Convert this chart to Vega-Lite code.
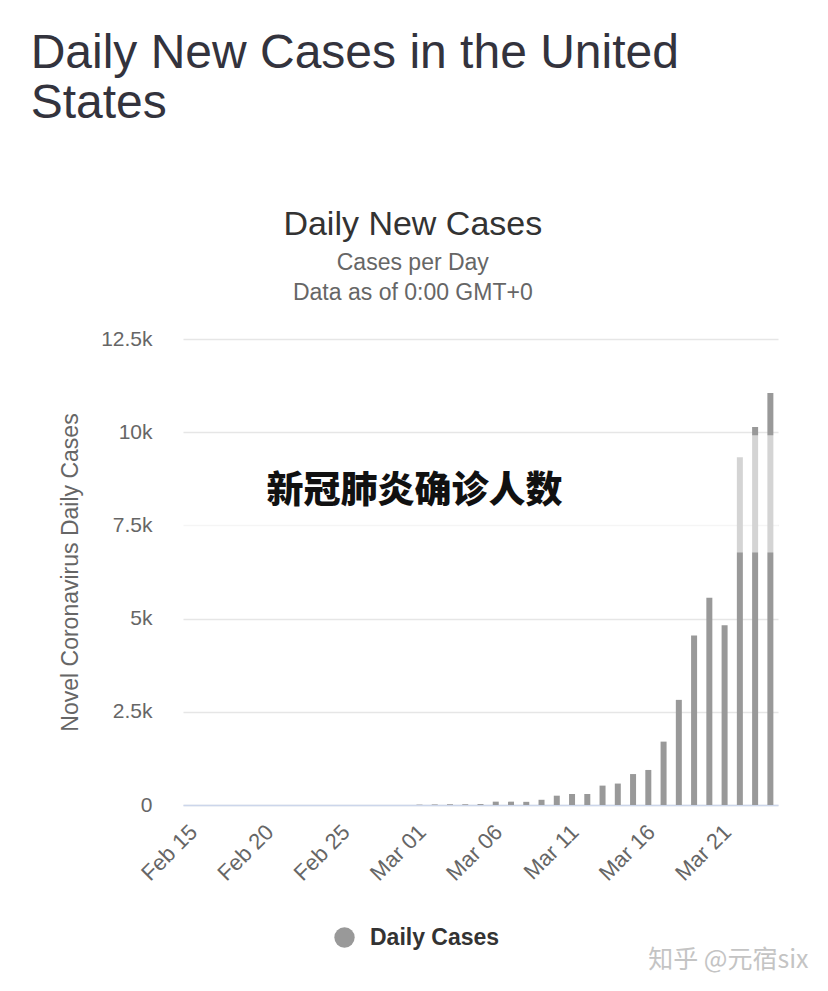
{
  "$schema": "https://vega.github.io/schema/vega-lite/v6.json",
  "background": "white",
  "padding": {"left": 30, "top": 30, "right": 10, "bottom": 10},
  "title": {"text": ["Daily New Cases in the United", "States"], "anchor": "start", "dx": -29, "fontSize": 48, "fontWeight": "normal", "color": "#33333d", "lineHeight": 50, "offset": 80, "font": "Liberation Sans"},
  "config": {"view": {"stroke": null}, "font": "Liberation Sans"},
  "datasets": {
    "cases": [
      {"date": "Feb 15", "cases": 0}, {"date": "Feb 16", "cases": 0}, {"date": "Feb 17", "cases": 0},
      {"date": "Feb 18", "cases": 0}, {"date": "Feb 19", "cases": 0}, {"date": "Feb 20", "cases": 0},
      {"date": "Feb 21", "cases": 0}, {"date": "Feb 22", "cases": 0}, {"date": "Feb 23", "cases": 0},
      {"date": "Feb 24", "cases": 0}, {"date": "Feb 25", "cases": 0}, {"date": "Feb 26", "cases": 0},
      {"date": "Feb 27", "cases": 0}, {"date": "Feb 28", "cases": 0}, {"date": "Feb 29", "cases": 0},
      {"date": "Mar 01", "cases": 10}, {"date": "Mar 02", "cases": 15}, {"date": "Mar 03", "cases": 20},
      {"date": "Mar 04", "cases": 20}, {"date": "Mar 05", "cases": 25}, {"date": "Mar 06", "cases": 90},
      {"date": "Mar 07", "cases": 90}, {"date": "Mar 08", "cases": 85}, {"date": "Mar 09", "cases": 140},
      {"date": "Mar 10", "cases": 250}, {"date": "Mar 11", "cases": 295}, {"date": "Mar 12", "cases": 295},
      {"date": "Mar 13", "cases": 520}, {"date": "Mar 14", "cases": 575}, {"date": "Mar 15", "cases": 830},
      {"date": "Mar 16", "cases": 940}, {"date": "Mar 17", "cases": 1700}, {"date": "Mar 18", "cases": 2820},
      {"date": "Mar 19", "cases": 4550}, {"date": "Mar 20", "cases": 5560}, {"date": "Mar 21", "cases": 4820},
      {"date": "Mar 22", "cases": 9330}, {"date": "Mar 23", "cases": 10140}, {"date": "Mar 24", "cases": 11050}
    ]
  },
  "vconcat": [
    {
      "width": 595,
      "height": 466,
      "title": {"text": "Daily New Cases", "subtitle": ["Cases per Day", "Data as of 0:00 GMT+0"], "anchor": "middle", "frame": "bounds", "dx": -21, "fontSize": 34, "fontWeight": "normal", "color": "#333333", "subtitleFontSize": 23, "subtitleColor": "#666666", "subtitleLineHeight": 30, "subtitlePadding": 10, "offset": 23},
      "data": {"name": "cases"},
      "layer": [
        {
          "mark": {"type": "bar", "size": 6},
          "encoding": {
            "x": {
              "field": "date", "type": "ordinal", "sort": null,
              "scale": {"paddingInner": 0, "paddingOuter": 0},
              "axis": {
                "values": ["Feb 15", "Feb 20", "Feb 25", "Mar 01", "Mar 06", "Mar 11", "Mar 16", "Mar 21"],
                "labelAngle": -45, "labelFontSize": 22, "labelColor": "#666666", "labelPadding": 16, "labelOffset": -4,
                "ticks": false, "domainColor": "#ccd6eb", "domainWidth": 1.5, "grid": false,
                "title": "知乎 @元宿six", "titleFont": "Noto Sans CJK SC", "titleFontSize": 25, "titleFontWeight": "normal",
                "titleColor": "#c4c4c4", "titleX": 625, "titleY": 162, "titleAlign": "right", "titleBaseline": "alphabetic"
              }
            },
            "y": {
              "field": "cases", "type": "quantitative",
              "scale": {"domain": [0, 12500], "nice": false},
              "axis": {
                "values": [0, 2500, 5000, 7500, 10000, 12500],
                "labelExpr": "datum.value == 0 ? '0' : datum.value / 1000 + 'k'",
                "labelFontSize": 21, "labelColor": "#666666", "labelPadding": 31,
                "ticks": false, "domain": false, "gridColor": "#e6e6e6", "gridWidth": 1.5,
                "title": "Novel Coronavirus Daily Cases", "titleFontSize": 23, "titleFontWeight": "normal",
                "titleColor": "#666666", "titlePadding": 18
              }
            },
            "color": {
              "datum": "Daily Cases",
              "scale": {"range": ["#999999"]},
              "legend": {
                "orient": "none", "legendX": 150, "legendY": 587, "title": null,
                "symbolType": "circle", "symbolSize": 415, "symbolStrokeWidth": 0,
                "labelFontSize": 23, "labelFontWeight": "bold", "labelColor": "#333333", "labelOffset": 14
              }
            }
          }
        },
        {
          "data": {"values": [{}]},
          "mark": {"type": "rect", "color": "white", "opacity": 0.58},
          "encoding": {"y": {"datum": 6775, "type": "quantitative"}, "y2": {"datum": 9920}}
        },
        {
          "data": {"values": [{"label": "新冠肺炎确诊人数"}]},
          "mark": {"type": "text", "font": "Noto Sans CJK SC", "fontSize": 37, "fontWeight": 900, "color": "#111111", "dx": -5},
          "encoding": {
            "x": {"datum": "Mar 01", "type": "ordinal"},
            "y": {"datum": 8400, "type": "quantitative"},
            "text": {"field": "label"}
          }
        }
      ]
    }
  ]
}
